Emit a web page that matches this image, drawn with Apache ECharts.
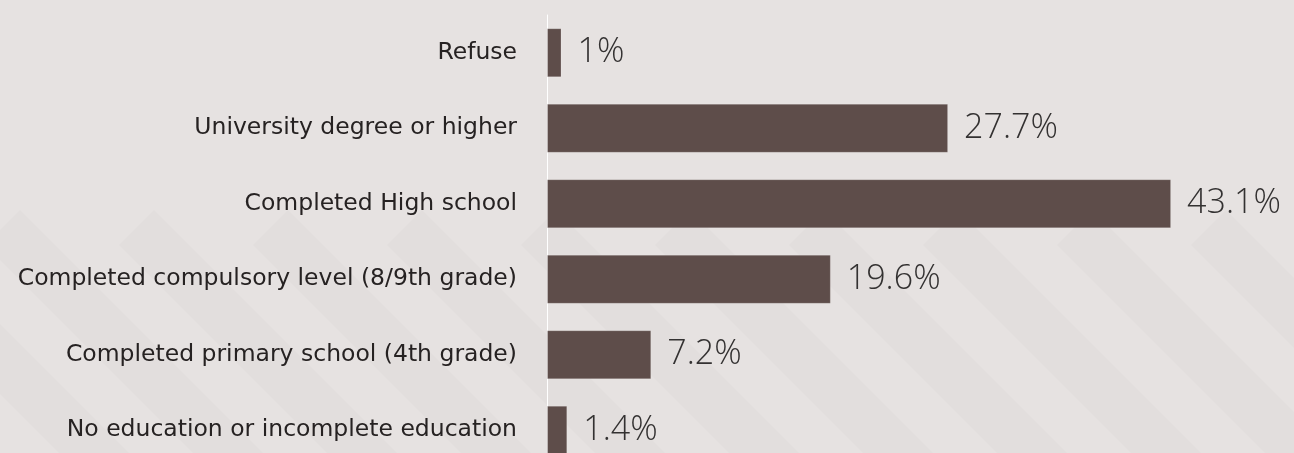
<!DOCTYPE html>
<html>
<head>
<meta charset="utf-8">
<script src="https://cdn.jsdelivr.net/npm/echarts@6/dist/echarts.min.js"></script>
<style>
  html, body { margin: 0; padding: 0; width: 1294px; height: 453px; overflow: hidden; background: #e6e2e1; }
  #wrap { position: relative; width: 1294px; height: 453px; overflow: hidden; }
  #bands { position: absolute; left: 0; top: 0; }
  #chart { position: absolute; left: 0; top: 0; width: 1294px; height: 480px; }
</style>
</head>
<body>
<div id="wrap">
  <svg id="bands" width="1294" height="453" xmlns="http://www.w3.org/2000/svg"></svg>
  <div id="chart"></div>
</div>
<script>
// Education level categories, top to bottom
const categories = [
  'Refuse',
  'University degree or higher',
  'Completed High school',
  'Completed compulsory level (8/9th grade)',
  'Completed primary school (4th grade)',
  'No education or incomplete education'
];
// Share of respondents, in percent
const shares = [1, 27.7, 43.1, 19.6, 7.2, 1.4];

// Decorative diagonal bands in the lower half of the panel
(function drawBands() {
  const svg = document.getElementById('bands');
  const top = 210, step = 134, w = 70, H = 300;
  let html = '';
  for (let x0 = 20 - step * 3; x0 < 1294 + step; x0 += step) {
    const pts = [
      [x0, top], [x0 + H, top + H], [x0 - w + H, top + H], [x0 - w / 2, top + w / 2]
    ].map(p => p.join(',')).join(' ');
    html += '<polygon points="' + pts + '" fill="#e2dedd"/>';
  }
  svg.innerHTML = html;
})();

const chart = echarts.init(document.getElementById('chart'), null, { renderer: 'canvas' });

chart.setOption({
  backgroundColor: 'transparent',
  animation: false,
  grid: { left: 547, top: 15, width: 724, height: 453, containLabel: false },
  xAxis: {
    type: 'value', min: 0, max: 50,
    show: false
  },
  yAxis: {
    type: 'category',
    data: categories,
    inverse: true,
    axisLine: { show: true, lineStyle: { color: '#ffffff', width: 1 } },
    axisTick: { show: false },
    splitLine: { show: false },
    axisLabel: {
      margin: 30,
      color: '#262222',
      fontFamily: '"DejaVu Sans", sans-serif',
      fontWeight: 'normal',
      fontSize: 23.5
    }
  },
  series: [{
    type: 'bar',
    data: shares,
    barWidth: 49,
    itemStyle: { color: '#5e4d4a', borderColor: 'rgba(255,255,255,0.18)', borderWidth: 1 },
    label: {
      show: true,
      position: 'right',
      distance: 16,
      formatter: p => p.value + '%',
      color: '#333131',
      fontFamily: '"Open Sans", sans-serif',
      fontWeight: 300,
      fontSize: 34
    }
  }]
});
</script>
</body>
</html>
